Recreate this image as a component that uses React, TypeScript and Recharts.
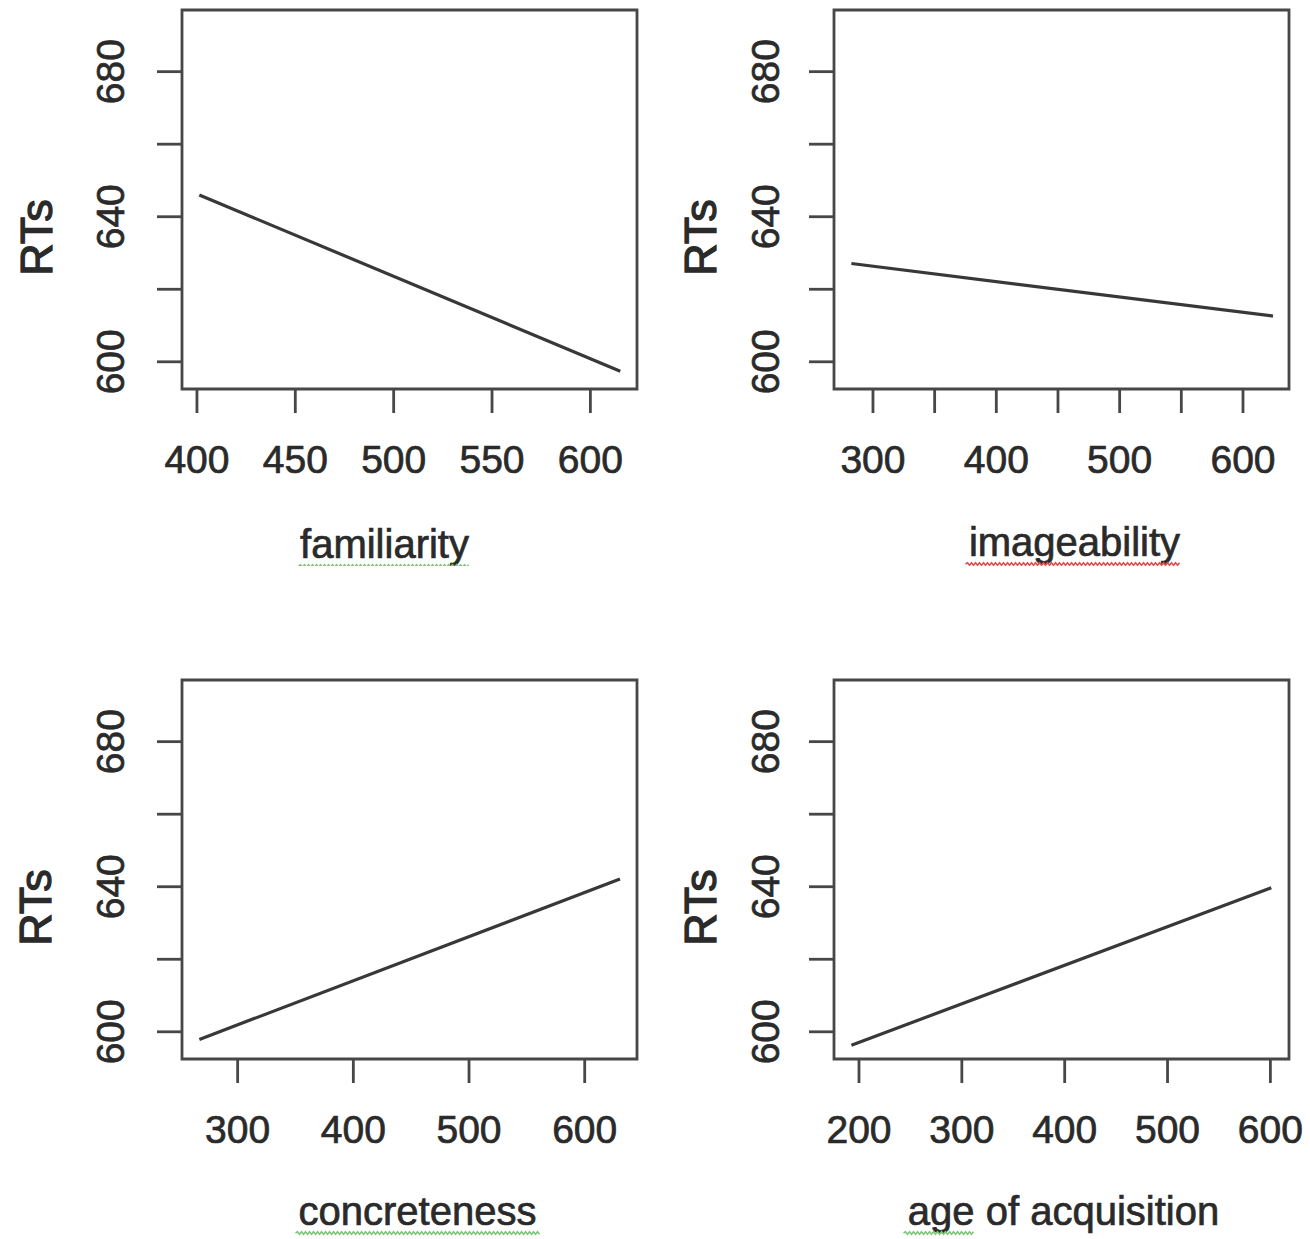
import { LineChart, Line, XAxis, YAxis, ReferenceArea, Label } from "recharts";

const FONT = '"Liberation Sans", Arial, Helvetica, sans-serif';
const INK = "#2a2a2a";
const FRAME = "#474747";

// Fitted RT lines: two end points per predictor.
const familiarity = [
  { x: 401.2, rt: 646.0 },
  { x: 615.2, rt: 597.4 },
];
const imageability = [
  { x: 282.5, rt: 627.1 },
  { x: 624.3, rt: 612.6 },
];
const concreteness = [
  { x: 266.9, rt: 597.9 },
  { x: 630.5, rt: 642.1 },
];
const ageOfAcquisition = [
  { x: 192.6, rt: 596.3 },
  { x: 600.9, rt: 639.7 },
];

const rtTicks = [600, 620, 640, 660, 680];
const rtLabelled = [600, 640, 680];
const familiarityTicks = [400, 450, 500, 550, 600];
const imageabilityTicks = [300, 350, 400, 450, 500, 550, 600];
const imageabilityLabelled = [300, 400, 500, 600];
const concretenessTicks = [300, 400, 500, 600];
const aoaTicks = [200, 300, 400, 500, 600];

const rtDomain: [number, number] = [592.5, 697];

// a thin outline of the same colour makes the text look as heavy as the scan
const heavy = { stroke: INK, strokeWidth: 0.7, paintOrder: "stroke" } as const;

// word-processor spell-check squiggle under the axis titles
function squiggle(x0: number, x1: number, y: number) {
  let d = `M${x0},${y}`;
  let up = true;
  for (let x = x0 + 2; x <= x1; x += 2) {
    d += ` L${x},${y + (up ? -1.3 : 1.3)}`;
    up = !up;
  }
  return d;
}

function RtTick(props: any) {
  const { x, y, payload } = props;
  if (!rtLabelled.includes(payload.value)) return <g />;
  return (
    <text
      x={x}
      y={y}
      transform={`rotate(-90 ${x} ${y})`}
      textAnchor="middle"
      fontSize={39}
      fontFamily={FONT}
      fill={INK}
      style={heavy}
    >
      {payload.value}
    </text>
  );
}

interface PanelProps {
  data: { x: number; rt: number }[];
  xDomain: [number, number];
  xTicks: number[];
  xLabelled?: number[];
  title: string;
  titleDx: number;
  titleDy: number;
  underline: [number, number];
  underlineColor: string;
  left: number;
  top: number;
  rtOffset: number; // distance from plot edge to "RTs" baseline
  tickGap: number;
}

function Panel(p: PanelProps) {
  return (
    <div style={{ position: "absolute", left: p.left, top: p.top }}>
      <LineChart
        width={655}
        height={566}
        data={p.data}
        margin={{ top: 10, right: 18, left: 82, bottom: 77 }}
      >
        <XAxis
          type="number"
          dataKey="x"
          domain={p.xDomain}
          allowDataOverflow
          ticks={p.xTicks}
          interval={0}
          height={100}
          axisLine={false}
          tickSize={24}
          tickMargin={32}
          tickLine={{ stroke: FRAME, strokeWidth: 2.8 }}
          tick={{ fill: INK, fontSize: 39, fontFamily: FONT, ...heavy }}
          tickFormatter={(v: number) =>
            !p.xLabelled || p.xLabelled.includes(v) ? String(v) : ""
          }
        >
          <Label
            content={(lp: any) => {
              const vb = lp.viewBox;
              const cx = vb.x + vb.width / 2 + p.titleDx;
              const by = vb.y + p.titleDy;
              return (
                <g>
                  <text
                    x={cx}
                    y={by}
                    textAnchor="middle"
                    fontSize={40}
                    fontFamily={FONT}
                    fill={INK}
                    style={heavy}
                  >
                    {p.title}
                  </text>
                  <path
                    d={squiggle(cx + p.underline[0], cx + p.underline[1], by + 8)}
                    fill="none"
                    stroke={p.underlineColor}
                    strokeWidth={1.6}
                  />
                </g>
              );
            }}
          />
        </XAxis>
        <YAxis
          type="number"
          dataKey="rt"
          domain={rtDomain}
          allowDataOverflow
          ticks={rtTicks}
          interval={0}
          width={100}
          axisLine={false}
          tickSize={25}
          tickMargin={p.tickGap}
          tickLine={{ stroke: FRAME, strokeWidth: 2.8 }}
          tick={<RtTick />}
        >
          <Label
            content={(lp: any) => {
              const vb = lp.viewBox;
              const bx = vb.x + vb.width - p.rtOffset;
              const cy = vb.y + vb.height / 2 + 38;
              return (
                <text
                  x={bx}
                  y={cy}
                  transform={`rotate(-90 ${bx} ${cy})`}
                  textAnchor="middle"
                  fontSize={45}
                  fontFamily={FONT}
                  fill={INK}
                  style={{ ...heavy, strokeWidth: 1.2 }}
                >
                  RTs
                </text>
              );
            }}
          />
        </YAxis>
        <ReferenceArea
          x1={p.xDomain[0]}
          x2={p.xDomain[1]}
          y1={rtDomain[0]}
          y2={rtDomain[1]}
          fill="none"
          stroke={FRAME}
          strokeWidth={2.8}
          ifOverflow="visible"
        />
        <Line
          type="linear"
          dataKey="rt"
          stroke="#383838"
          strokeWidth={3.2}
          dot={false}
          isAnimationActive={false}
        />
      </LineChart>
    </div>
  );
}

export default function App() {
  return (
    <div
      style={{
        position: "absolute",
        left: 0,
        top: 0,
        width: 1310,
        height: 1239,
        overflow: "hidden",
        background: "#fff",
      }}
    >
      <Panel
        data={familiarity}
        xDomain={[392.4, 623.7]}
        xTicks={familiarityTicks}
        title="familiarity"
        titleDx={-25}
        titleDy={169}
        underline={[-86, 85]}
        underlineColor="#7cc77c"
        left={0}
        top={0}
        rtOffset={130}
        tickGap={33}
      />
      <Panel
        data={imageability}
        xDomain={[268.4, 637.3]}
        xTicks={imageabilityTicks}
        xLabelled={imageabilityLabelled}
        title="imageability"
        titleDx={13}
        titleDy={167}
        underline={[-109, 106]}
        underlineColor="#e05050"
        left={652.3}
        top={0}
        rtOffset={118}
        tickGap={30}
      />
      <Panel
        data={concreteness}
        xDomain={[251.9, 645.2]}
        xTicks={concretenessTicks}
        title="concreteness"
        titleDx={8}
        titleDy={166}
        underline={[-122, 122]}
        underlineColor="#7cc77c"
        left={0}
        top={670}
        rtOffset={131}
        tickGap={33}
      />
      <Panel
        data={ageOfAcquisition}
        xDomain={[175.7, 618.1]}
        xTicks={aoaTicks}
        title="age of acquisition"
        titleDx={2}
        titleDy={166}
        underline={[-160, -89]}
        underlineColor="#7cc77c"
        left={652.3}
        top={670}
        rtOffset={118}
        tickGap={30}
      />
    </div>
  );
}
